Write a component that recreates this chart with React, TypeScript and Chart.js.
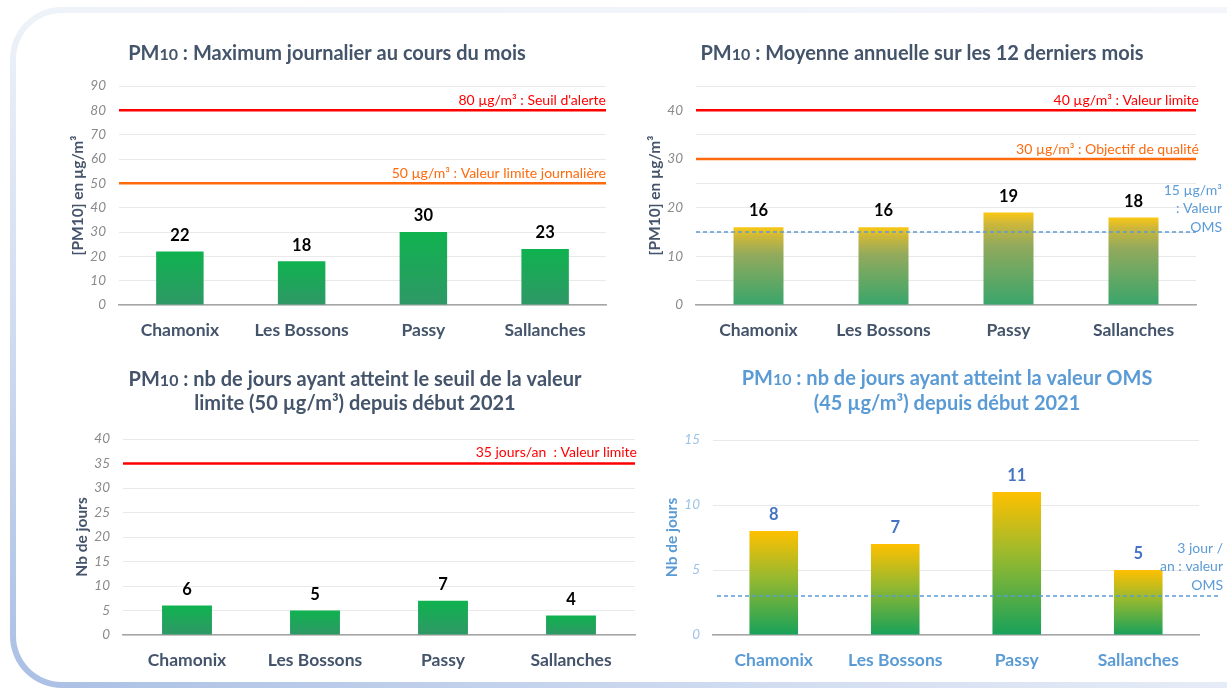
import React, { useEffect, useRef } from 'react';
import { Chart, registerables } from 'chart.js';

Chart.register(...registerables);

// ---------- DATA ----------
const categories = ['Chamonix', 'Les Bossons', 'Passy', 'Sallanches'];

// Panel 1 : maximum journalier au cours du mois
const maxJournalierValues = [22, 18, 30, 23];
const maxJournalierThresholds = [80, 50];
const maxJournalierThresholdLabels = [["80 µg/m³ : Seuil d'alerte"], ['50 µg/m³ : Valeur limite journalière']];

// Panel 2 : moyenne annuelle sur les 12 derniers mois
const moyenneAnnuelleValues = [16, 16, 19, 18];
const moyenneAnnuelleThresholds = [40, 30, 15];
const moyenneAnnuelleThresholdLabels = [['40 µg/m³ : Valeur limite'], ['30 µg/m³ : Objectif de qualité'], ['15 µg/m³', ': Valeur', 'OMS']];

// Panel 3 : nb de jours > valeur limite
const joursValeurLimiteValues = [6, 5, 7, 4];
const joursValeurLimiteThresholds = [35];
const joursValeurLimiteThresholdLabels = [['35 jours/an  : Valeur limite']];

// Panel 4 : nb de jours > valeur OMS
const joursOMSValues = [8, 7, 11, 5];
const joursOMSThresholds = [3];
const joursOMSThresholdLabels = [['3 jour /', 'an : valeur', 'OMS']];

// Titles
const title1 = [' : Maximum journalier au cours du mois'];
const title2 = [' : Moyenne annuelle sur les 12 derniers mois'];
const title3 = [' : nb de jours ayant atteint le seuil de la valeur', 'limite (50 µg/m³) depuis début 2021'];
const title4 = [' : nb de jours ayant atteint la valeur OMS', '(45 µg/m³) depuis début 2021'];

// ---------- STYLE ----------
const FONT = 'Lato, "Open Sans", sans-serif';
const SLATE = '#44546a';
const BLUE = '#5b9bd5';
const RED = '#ff0000';
const ORANGE = '#ff6a0d';
const W = 1227;
const H = 688;
const Y_WIDTH = 50;
const X_HEIGHT = 40;

const greenStops: [number, string][] = [[0, '#0fb24f'], [1, '#2f9866']];
const ocreStops: [number, string][] = [[0, '#fbc814'], [0.12, '#cdb73a'], [0.35, '#93aa5c'], [1, '#39a56b']];
const omsStops: [number, string][] = [[0, '#ffc000'], [0.45, '#97b92f'], [1, '#17a15a']];

type RefLine = {
  value: number; label: string[]; color: string; width: number; dash?: number[];
  labelColor: string; labelDx: number; labelDy: number; lineGap?: number; endExtra?: number; startOffset?: number;
};

type PanelCfg = {
  id: string;
  values: number[];
  left: number; right: number; top: number; bottom: number;
  yMax: number; step: number; labelEvery: number;
  barPct: number;
  stops: [number, string][];
  yTitle: string; yTitleColor: string; tickColor: string; xColor: string; valueColor: string;
  titleLines: string[]; titleX: number; titleY: number[]; titleColor: string;
  lines: RefLine[];
};

const panels: PanelCfg[] = [
  {
    id: 'p1', values: maxJournalierValues,
    left: 119, right: 606, top: 86, bottom: 305,
    yMax: 90, step: 10, labelEvery: 10, barPct: 0.39, stops: greenStops,
    yTitle: '[PM10] en µg/m³', yTitleColor: SLATE, tickColor: '#8a8a8a', xColor: SLATE, valueColor: '#000',
    titleLines: title1, titleX: 327, titleY: [60], titleColor: SLATE,
    lines: [
      { value: maxJournalierThresholds[0], label: maxJournalierThresholdLabels[0], color: RED, width: 2.5, labelColor: RED, labelDx: 0, labelDy: 10 },
      { value: maxJournalierThresholds[1], label: maxJournalierThresholdLabels[1], color: ORANGE, width: 2.5, labelColor: ORANGE, labelDx: 0, labelDy: 10 },
    ],
  },
  {
    id: 'p2', values: moyenneAnnuelleValues,
    left: 696, right: 1196, top: 86, bottom: 305,
    yMax: 45, step: 5, labelEvery: 10, barPct: 0.4, stops: ocreStops,
    yTitle: '[PM10] en µg/m³', yTitleColor: SLATE, tickColor: '#8a8a8a', xColor: SLATE, valueColor: '#000',
    titleLines: title2, titleX: 922, titleY: [60], titleColor: SLATE,
    lines: [
      { value: moyenneAnnuelleThresholds[0], label: moyenneAnnuelleThresholdLabels[0], color: RED, width: 2.5, labelColor: RED, labelDx: 3, labelDy: 10 },
      { value: moyenneAnnuelleThresholds[1], label: moyenneAnnuelleThresholdLabels[1], color: ORANGE, width: 2.5, labelColor: ORANGE, labelDx: 3, labelDy: 10 },
      { value: moyenneAnnuelleThresholds[2], label: moyenneAnnuelleThresholdLabels[2], color: BLUE, width: 1.3, dash: [4, 3], labelColor: BLUE, labelDx: 26, labelDy: 5, lineGap: 18.5 },
    ],
  },
  {
    id: 'p3', values: joursValeurLimiteValues,
    left: 123, right: 635, top: 439, bottom: 635,
    yMax: 40, step: 5, labelEvery: 5, barPct: 0.39, stops: greenStops,
    yTitle: 'Nb de jours', yTitleColor: SLATE, tickColor: '#8a8a8a', xColor: SLATE, valueColor: '#000',
    titleLines: title3, titleX: 355, titleY: [386, 410], titleColor: SLATE,
    lines: [
      { value: joursValeurLimiteThresholds[0], label: joursValeurLimiteThresholdLabels[0], color: RED, width: 2.5, labelColor: RED, labelDx: 2, labelDy: 11 },
    ],
  },
  {
    id: 'p4', values: joursOMSValues,
    left: 713, right: 1199, top: 440, bottom: 635,
    yMax: 15, step: 5, labelEvery: 5, barPct: 0.4, stops: omsStops,
    yTitle: 'Nb de jours', yTitleColor: BLUE, tickColor: '#9dc3e6', xColor: BLUE, valueColor: '#4472c4',
    titleLines: title4, titleX: 947, titleY: [385, 410], titleColor: BLUE,
    lines: [
      { value: joursOMSThresholds[0], label: joursOMSThresholdLabels[0], color: BLUE, width: 1.3, dash: [4, 3], labelColor: BLUE, labelDx: 24, labelDy: 11, lineGap: 18.5, endExtra: 20, startOffset: 4 },
    ],
  },
];

// ---------- PLUGIN ----------
const decorPlugin = {
  id: 'decor',
  afterDatasetsDraw(chart: any, _args: any, opts: any) {
    const { ctx, chartArea } = chart;
    const y = chart.scales.y;
    ctx.save();
    for (const l of (opts.lines || []) as RefLine[]) {
      const py = y.getPixelForValue(l.value);
      ctx.strokeStyle = l.color;
      ctx.lineWidth = l.width;
      ctx.setLineDash(l.dash || []);
      ctx.beginPath();
      ctx.moveTo(chartArea.left + (l.startOffset || 0), py);
      ctx.lineTo(chartArea.right + (l.endExtra || 0), py);
      ctx.stroke();
      ctx.setLineDash([]);
      ctx.fillStyle = l.labelColor;
      ctx.font = `14px ${FONT}`;
      ctx.textAlign = 'right';
      ctx.textBaseline = 'middle';
      const n = l.label.length;
      l.label.forEach((t, i) => {
        ctx.fillText(t, chartArea.right + l.labelDx, py - l.labelDy - (n - 1 - i) * (l.lineGap || 18));
      });
    }
    // value labels
    const meta = chart.getDatasetMeta(0);
    const data = chart.data.datasets[0].data;
    ctx.fillStyle = opts.valueColor;
    ctx.font = `bold 16.5px ${FONT}`;
    ctx.textAlign = 'center';
    ctx.textBaseline = 'middle';
    meta.data.forEach((el: any, i: number) => {
      ctx.fillText(String(data[i]), el.x, el.y - 16);
    });
    // title (baseline-aligned, "10" in smaller type)
    const big = `bold 20px ${FONT}`;
    const small = `bold 16px ${FONT}`;
    ctx.fillStyle = opts.titleColor;
    ctx.textAlign = 'left';
    ctx.textBaseline = 'alphabetic';
    (opts.titleLines as string[]).forEach((line, i) => {
      const segs: [string, string][] = i === 0 ? [['PM', big], ['10', small], [line, big]] : [[line, big]];
      let total = 0;
      segs.forEach(([t, f]) => { ctx.font = f; total += ctx.measureText(t).width; });
      let x = opts.titleX - total / 2;
      segs.forEach(([t, f]) => {
        ctx.font = f;
        ctx.fillText(t, x, opts.titleY[i]);
        x += ctx.measureText(t).width;
      });
    });
    ctx.restore();
  },
};

function makeGradientColor(stops: [number, string][]) {
  return (c: any) => {
    const chart = c.chart;
    const { ctx, chartArea } = chart;
    if (!chartArea || c.type !== 'data') return stops[0][1];
    const y = chart.scales.y;
    const top = y.getPixelForValue(c.raw);
    const bottom = y.getPixelForValue(0);
    const g = ctx.createLinearGradient(0, top, 0, bottom);
    stops.forEach(([o, col]) => g.addColorStop(o, col));
    return g;
  };
}

function Panel({ cfg }: { cfg: PanelCfg }) {
  const ref = useRef<HTMLCanvasElement>(null);
  useEffect(() => {
    if (!ref.current) return;
    const chart = new Chart(ref.current, {
      type: 'bar',
      data: {
        labels: categories,
        datasets: [{
          data: cfg.values,
          backgroundColor: makeGradientColor(cfg.stops) as any,
          borderWidth: 0,
          barPercentage: cfg.barPct,
          categoryPercentage: 1,
        }],
      },
      options: {
        responsive: false,
        animation: false,
        events: [],
        layout: {
          padding: {
            left: cfg.left - Y_WIDTH,
            right: W - cfg.right,
            top: cfg.top,
            bottom: H - cfg.bottom - X_HEIGHT,
          },
        },
        plugins: {
          legend: { display: false },
          title: { display: false },
          tooltip: { enabled: false },
          decor: {
            lines: cfg.lines,
            valueColor: cfg.valueColor,
            titleLines: cfg.titleLines,
            titleX: cfg.titleX,
            titleY: cfg.titleY,
            titleColor: cfg.titleColor,
          },
        } as any,
        scales: {
          x: {
            grid: { display: false, drawTicks: false },
            border: { display: true, color: '#a6a6a6', width: 1.5 },
            ticks: { color: cfg.xColor, font: { family: FONT, size: 17.5, weight: 'bold' }, padding: 15 },
            afterFit: (s: any) => { s.height = X_HEIGHT; },
          },
          y: {
            min: 0,
            max: cfg.yMax,
            grid: { color: '#e9e9e9', lineWidth: 1, drawTicks: false },
            border: { display: false },
            ticks: {
              stepSize: cfg.step,
              padding: 13,
              color: cfg.tickColor,
              font: { family: FONT, size: 13.5, style: 'italic' },
              callback: (v: any) => (Number(v) % cfg.labelEvery === 0 ? String(v) : ''),
            },
            title: {
              display: true,
              text: cfg.yTitle,
              color: cfg.yTitleColor,
              font: { family: FONT, size: 15.5, weight: 'bold' },
              padding: { top: 0, bottom: 0 },
            },
            afterFit: (s: any) => { s.width = Y_WIDTH; },
          },
        },
      },
      plugins: [decorPlugin],
    });
    return () => chart.destroy();
  }, [cfg]);
  return (
    <canvas
      ref={ref}
      width={W}
      height={H}
      style={{ position: 'absolute', left: 0, top: 0, width: W, height: H }}
    />
  );
}

export default function App() {
  return (
    <div style={{ position: 'absolute', left: 0, top: 0, width: W, height: H, overflow: 'hidden', background: '#fff' }}>
      <div
        style={{
          position: 'absolute', left: 10, top: 7, width: 1400, height: 681, borderRadius: 52,
          background: 'linear-gradient(to top right, #a9bfe4 0%, #d2ddf1 28%, #eef2f9 50%, #f4f6fb 100%)',
        }}
      />
      <div
        style={{
          position: 'absolute', left: 16, top: 13, width: 1400, height: 669, borderRadius: 46, background: '#fff',
        }}
      />
      {panels.map((p) => (
        <Panel key={p.id} cfg={p} />
      ))}
    </div>
  );
}
